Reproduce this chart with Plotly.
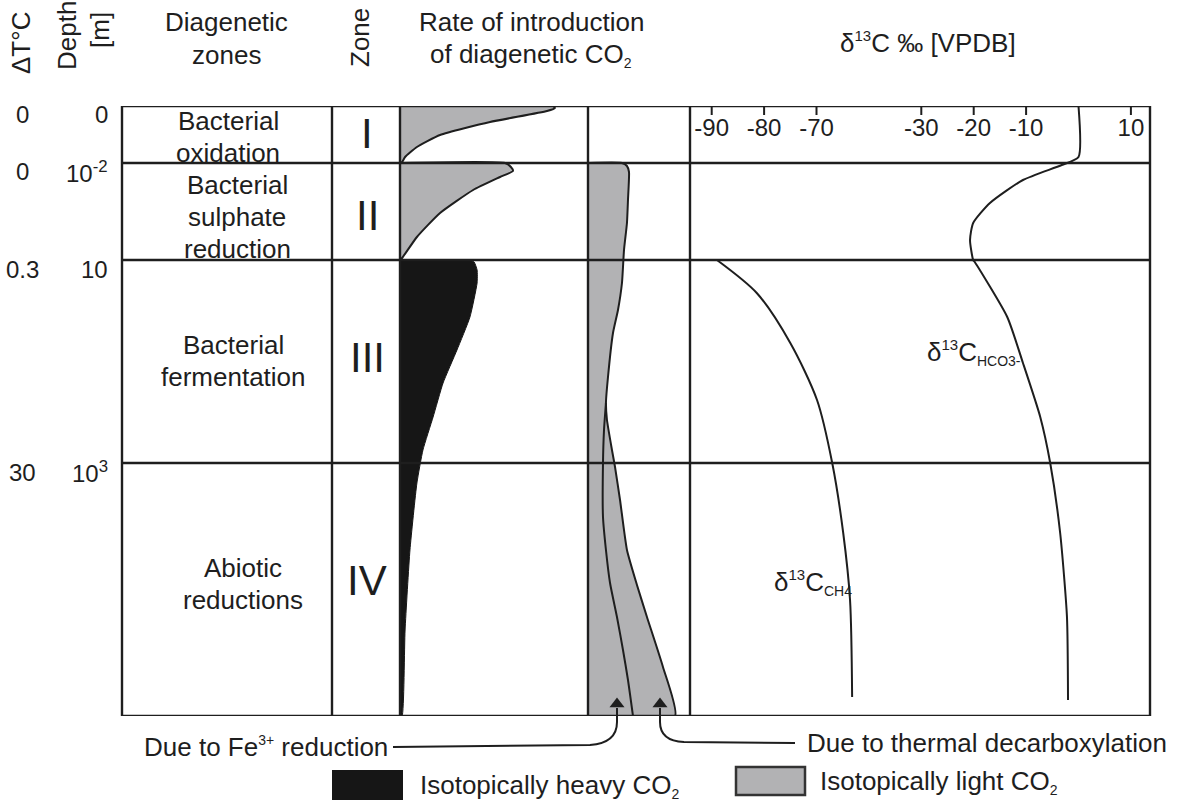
import plotly.graph_objects as go

W, H = 1183, 803
FONT = "Liberation Sans, Arial, sans-serif"
INK = "#1e1e1e"
GREY = "#b2b2b4"

# ---------------- data ----------------
# schematic depth axis: positions of zone boundaries on the (non-linear) depth scale
zone_bounds = [0, 57, 154, 357, 610]
depth_labels = ["0", "10<sup>-2</sup>", "10", "10<sup>3</sup>"]
dT_labels = ["0", "0", "0.3", "30"]
zone_names = [["Bacterial", "oxidation"], ["Bacterial", "sulphate", "reduction"],
              ["Bacterial", "fermentation"], ["Abiotic", "reductions"]]
zone_numerals = ["I", "II", "III", "IV"]

# rate of introduction of diagenetic CO2 (relative units)
rate_I_depth = [0, 0, 2, 5, 16, 29, 41, 51, 56, 57]
rate_I_value = [0, 0.814, 0.824, 0.782, 0.479, 0.213, 0.090, 0.027, 0.011, 0]
rate_II_depth = [57, 57, 61, 65, 71, 84, 107, 131, 152, 154]
rate_II_value = [0, 0.559, 0.590, 0.601, 0.532, 0.389, 0.213, 0.090, 0.011, 0]
rate_heavy_depth = [154, 154, 156, 164, 177, 211, 244, 277, 311, 344, 377, 444, 524, 610, 610]
rate_heavy_value = [0, 0.362, 0.394, 0.410, 0.410, 0.372, 0.303, 0.229, 0.176, 0.122,
                    0.090, 0.053, 0.027, 0.011, 0]

# isotopically light CO2 column (relative units)
light_depth = [57, 57, 60, 66, 94, 117, 144, 177, 204, 227, 271, 297, 314, 344, 361,
               394, 444, 479, 511, 561, 610, 610]
light_value = [0, 0.333, 0.382, 0.402, 0.392, 0.382, 0.353, 0.333, 0.294, 0.245, 0.196,
               0.176, 0.186, 0.235, 0.265, 0.314, 0.382, 0.480, 0.578, 0.735, 0.853, 0]
fe_depth = [297, 324, 357, 411, 444, 477, 511, 544, 574, 610]
fe_value = [0.176, 0.157, 0.147, 0.147, 0.176, 0.216, 0.284, 0.343, 0.392, 0.441]

# delta 13C profiles (per mil VPDB)
hco3_depth = [0, 51, 59, 74, 97, 117, 134, 154, 156, 211, 257, 311, 357, 427, 511, 594]
hco3_d13c = [0, 0, -3.2, -10.6, -16.9, -20.1, -20.7, -20.1, -19.8, -13.6, -10.6, -7.3,
             -5.4, -3.5, -2.2, -2.0]
ch4_depth = [154, 187, 237, 294, 357, 427, 494, 591]
ch4_d13c = [-89, -81.4, -75, -69.9, -67, -64.9, -63.6, -63.2]
ticks_left = [-90, -80, -70]
ticks_right = [-30, -20, -10, 10]

# ---------------- layout geometry (pixels) ----------------
TOP, BOT = 106, 716
X_L, X_ZONE, X_RATE, X_GREY, X_D13, X_R = 122, 332, 400, 588, 690, 1150


def fx(px):
    return px / W


fig = go.Figure()

# rate panel
fig.add_trace(go.Scatter(x=rate_I_value, y=rate_I_depth, fill="toself", fillcolor=GREY,
                         line=dict(color=INK, width=2, shape="spline", smoothing=0.5),
                         mode="lines", xaxis="x", yaxis="y", hoverinfo="skip"))
fig.add_trace(go.Scatter(x=rate_II_value, y=rate_II_depth, fill="toself", fillcolor=GREY,
                         line=dict(color=INK, width=2, shape="spline", smoothing=0.5),
                         mode="lines", xaxis="x", yaxis="y", hoverinfo="skip"))
fig.add_trace(go.Scatter(x=rate_heavy_value, y=rate_heavy_depth, fill="toself", fillcolor="#161616",
                         line=dict(color="#161616", width=1, shape="spline", smoothing=0.5),
                         mode="lines", xaxis="x", yaxis="y", hoverinfo="skip"))

# light CO2 column
fig.add_trace(go.Scatter(x=light_value, y=light_depth, fill="toself", fillcolor=GREY,
                         line=dict(color=INK, width=2, shape="spline", smoothing=0.5),
                         mode="lines", xaxis="x2", yaxis="y", hoverinfo="skip"))
fig.add_trace(go.Scatter(x=fe_value, y=fe_depth,
                         line=dict(color=INK, width=2, shape="spline", smoothing=0.6),
                         mode="lines", xaxis="x2", yaxis="y", hoverinfo="skip"))

# delta 13C curves
fig.add_trace(go.Scatter(x=ch4_d13c, y=ch4_depth,
                         line=dict(color=INK, width=2, shape="spline", smoothing=0.8),
                         mode="lines", xaxis="x3", yaxis="y", hoverinfo="skip"))
fig.add_trace(go.Scatter(x=hco3_d13c, y=hco3_depth,
                         line=dict(color=INK, width=2, shape="spline", smoothing=0.6),
                         mode="lines", xaxis="x4", yaxis="y", hoverinfo="skip"))

# arrow heads (canvas)
fig.add_trace(go.Scatter(x=[617, 660], y=[704, 704], mode="markers",
                         marker=dict(symbol="triangle-up", size=13, color=INK),
                         xaxis="x5", yaxis="y2", hoverinfo="skip"))

shapes = []
line_style = dict(color=INK, width=2.4)
# horizontal frame lines at zone boundaries
for b in zone_bounds:
    shapes.append(dict(type="line", xref="paper", yref="y", x0=fx(X_L), x1=fx(X_R),
                       y0=b, y1=b, line=line_style, layer="above"))
for xv in [X_L, X_ZONE, X_RATE, X_GREY, X_D13, X_R]:
    shapes.append(dict(type="line", xref="paper", yref="y", x0=fx(xv), x1=fx(xv),
                       y0=zone_bounds[0], y1=zone_bounds[-1], line=line_style, layer="above"))
# delta 13C tick marks (inside, from the top border)
for tv in ticks_left:
    shapes.append(dict(type="line", xref="x3", yref="y", x0=tv, x1=tv, y0=0, y1=9,
                       line=dict(color=INK, width=2)))
for tv in ticks_right:
    shapes.append(dict(type="line", xref="x4", yref="y", x0=tv, x1=tv, y0=0, y1=9,
                       line=dict(color=INK, width=2)))
# connectors to the arrow labels
shapes.append(dict(type="path", xref="x5", yref="y2",
                   path="M 393,747 L 590,745 Q 617,743 617,722 L 617,708",
                   line=dict(color=INK, width=2)))
shapes.append(dict(type="path", xref="x5", yref="y2",
                   path="M 795,743 L 684,742 Q 660,741 660,722 L 660,708",
                   line=dict(color=INK, width=2)))
# legend boxes
shapes.append(dict(type="rect", xref="x5", yref="y2", x0=332, x1=403, y0=770, y1=800,
                   fillcolor="#161616", line=dict(width=0)))
shapes.append(dict(type="rect", xref="x5", yref="y2", x0=736, x1=805, y0=767, y1=795,
                   fillcolor=GREY, line=dict(color="#333333", width=2.5)))

ann = []


def txt(x, y, t, size=26, angle=0, xanchor="center", yanchor="middle"):
    ann.append(dict(x=x, y=y, xref="x5", yref="y2", text=t, showarrow=False,
                    font=dict(family=FONT, size=size, color=INK), textangle=angle,
                    xanchor=xanchor, yanchor=yanchor))


SUP13 = "<sup><span style='font-size:15px'>13</span></sup>"

# headers
txt(21, 43, "ΔT°C", angle=-90)
txt(67, 36, "Depth", angle=-90)
txt(100, 30, "[m]", angle=-90)
txt(226, 22, "Diagenetic")
txt(226, 55, "zones")
txt(360, 38, "Zone", angle=-90)
txt(531, 22, "Rate of introduction")
txt(531, 55, "of diagenetic CO<sub><span style='font-size:14px'>2</span></sub>")
txt(928, 42, "δ" + SUP13 + "C ‰ [VPDB]")

# left depth / temperature labels
for b, dl, tl in zip(zone_bounds[:4], depth_labels, dT_labels):
    ann.append(dict(x=fx(110), y=b, xref="paper", yref="y", yshift=-9, text=dl, showarrow=False,
                    font=dict(family=FONT, size=24, color=INK), xanchor="right", yanchor="middle"))
    ann.append(dict(x=fx(22), y=b, xref="paper", yref="y", yshift=-9, text=tl, showarrow=False,
                    font=dict(family=FONT, size=24, color=INK), xanchor="center", yanchor="middle"))

# zone names and numerals
name_x = [228, 237, 233, 243]
name_y0 = [121, 185, 345, 568]
num_y = [133, 215, 357, 580]
for lines, nx, ny, num, nuy in zip(zone_names, name_x, name_y0, zone_numerals, num_y):
    for k, ln in enumerate(lines):
        txt(nx, ny + 32 * k, ln)
    txt(367, nuy, num, size=42)

# curve labels
txt(925, 352, "δ" + SUP13 + "C<sub><span style='font-size:14px'>HCO3-</span></sub>", xanchor="left")
txt(772, 582, "δ" + SUP13 + "C<sub><span style='font-size:14px'>CH4</span></sub>", xanchor="left")

# bottom labels
txt(390, 747, "Due to Fe<sup><span style='font-size:14px'>3+</span></sup> reduction", xanchor="right")
txt(805, 743, "Due to thermal decarboxylation", xanchor="left")
txt(418, 786, "Isotopically heavy CO<sub><span style='font-size:14px'>2</span></sub>", xanchor="left")
txt(818, 782, "Isotopically light CO<sub><span style='font-size:14px'>2</span></sub>", xanchor="left")

y_dom = [1 - BOT / H, 1 - TOP / H]
d13_px_per = 5.24
left_range = [-90 - (711.7 - X_D13) / d13_px_per, -90 + (X_R - 711.7) / d13_px_per]
right_range = [left_range[0] + 20, left_range[1] + 20]

hidden = dict(visible=False, showgrid=False, zeroline=False)
tick_axis = dict(side="top", anchor="y", showgrid=False, zeroline=False, showline=False,
                 ticks="", ticklabelposition="inside", ticklabelstandoff=10,
                 tickfont=dict(family=FONT, size=24, color=INK),
                 domain=[fx(X_D13), fx(X_R)])

fig.update_layout(
    width=W, height=H, margin=dict(l=0, r=0, t=0, b=0),
    paper_bgcolor="white", plot_bgcolor="rgba(0,0,0,0)", showlegend=False,
    xaxis=dict(domain=[fx(X_RATE), fx(X_GREY)], range=[0, 1], anchor="y", **hidden),
    xaxis2=dict(domain=[fx(X_GREY), fx(X_D13)], range=[0, 1], anchor="y", **hidden),
    xaxis3=dict(range=left_range, tickvals=ticks_left, ticktext=[str(v) for v in ticks_left],
                **tick_axis),
    xaxis4=dict(range=right_range, tickvals=ticks_right, ticktext=[str(v) for v in ticks_right],
                overlaying="x3", **tick_axis),
    yaxis=dict(domain=y_dom, range=[zone_bounds[-1], zone_bounds[0]], anchor="x", **hidden),
    xaxis5=dict(domain=[0, 1], range=[0, W], anchor="y2", **hidden),
    yaxis2=dict(domain=[0, 1], range=[H, 0], anchor="x5", **hidden),
    shapes=shapes, annotations=ann,
)

fig.write_html("out.html", config={"displayModeBar": False},
               post_script="document.body.style.margin='0';document.body.style.overflow='hidden';")
